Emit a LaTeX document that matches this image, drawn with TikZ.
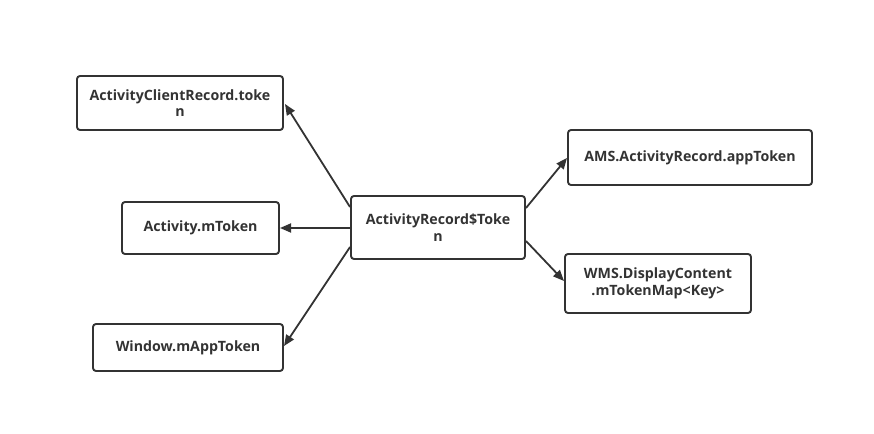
\documentclass[tikz,border=0pt]{standalone}
\usepackage{fontspec}
\setmainfont{Open Sans}
\usetikzlibrary{arrows.meta}
\definecolor{ink}{HTML}{333333}
\tikzset{
  box/.style={draw=ink, line width=1.9pt, rounded corners=3pt, fill=white,
    text=ink, font=\bfseries\fontsize{14.2}{16.5}\selectfont, align=center, inner sep=0pt},
  conn/.style={draw=ink, line width=1.8pt, -{Triangle[length=11pt,width=9pt]}}
}
\begin{document}
\begin{tikzpicture}[x=1pt,y=1pt]
\useasboundingbox (0,0) rectangle (874,433);
\node[box, minimum width=206pt, minimum height=54pt] (acr) at (180,330) {ActivityClientRecord.toke\\n};
\node[box, minimum width=157pt, minimum height=52pt] (act) at (200.5,205) {Activity.mToken};
\node[box, minimum width=190pt, minimum height=47pt] (win) at (188,85.5) {Window.mAppToken};
\node[box, minimum width=174pt, minimum height=63pt] (c) at (438,205.5) {ActivityRecord\$Toke\\n};
\node[box, minimum width=244pt, minimum height=55pt] (ams) at (690,275.5) {AMS.ActivityRecord.appToken};
\node[box, minimum width=186pt, minimum height=59pt] (wms) at (658,149.5) {WMS.DisplayContent\\.mTokenMap<Key>};
\coordinate (s1) at (350,226);
\coordinate (e1) at (285,329);
\coordinate (s2) at (350,205);
\coordinate (e2) at (280,205);
\coordinate (s3) at (350,186);
\coordinate (e3) at (284,87);
\coordinate (s4) at (526,225);
\coordinate (e4) at (567,275);
\coordinate (s5) at (526,192);
\coordinate (e5) at (564,152);
\draw[conn] (s1) -- (e1);
\draw[conn] (s2) -- (e2);
\draw[conn] (s3) -- (e3);
\draw[conn] (s4) -- (e4);
\draw[conn] (s5) -- (e5);
\end{tikzpicture}
\end{document}
